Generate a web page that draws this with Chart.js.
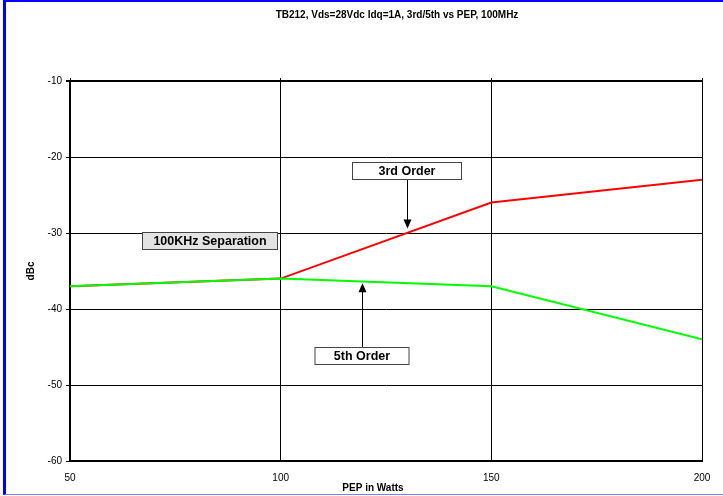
<!DOCTYPE html>
<html>
<head>
<meta charset="utf-8">
<script src="https://cdn.jsdelivr.net/npm/chart.js@4.4.1/dist/chart.umd.min.js"></script>
<style>
  html, body { margin: 0; padding: 0; background: #fff; }
  #wrap { position: relative; width: 723px; height: 496px; }
  #frame { position: absolute; left: 3px; top: 0; width: 725px; height: 495px;
           border-left: 3px solid #0000ff; border-top: 2px solid #0000ff;
           border-bottom: 1px solid #8080ff; box-sizing: border-box; pointer-events: none; }
</style>
</head>
<body>
<div id="wrap">
  <canvas id="chart" width="723" height="496"></canvas>
  <div id="frame"></div>
</div>
<script>
// chart data
var pep = [50, 100, 150, 200];
var thirdOrder = [-37, -36, -26, -23];
var fifthOrder = [-37, -36, -37, -44];
var yTicks = [-60, -50, -40, -30, -20, -10];

// annotation boxes (data coordinates: centre x, box top y, arrow tip y)
var annoText = ["3rd Order", "100KHz Separation", "5th Order"];
var annoX = [130, 83.2, 119.3];
var annoY = [-20.6, -29.9, -45];
var annoArrow = [-29.4, null, -36.6];
var annoArrowUp = [false, false, true];

function toPoints(xs, ys) {
    var out = [];
    for (var i = 0; i < xs.length; i++) out.push({x: xs[i], y: ys[i]});
    return out;
}

var labelsPlugin = {
    id: "labels",
    afterDraw: function (chart) {
        var ctx = chart.ctx;
        ctx.save();
        ctx.fillStyle = "#000";
        ctx.font = "bold 10px 'Liberation Sans', Arial, sans-serif";
        ctx.textAlign = "center";
        ctx.textBaseline = "middle";
        ctx.fillText("TB212, Vds=28Vdc Idq=1A, 3rd/5th vs PEP, 100MHz", 397, 15);
        ctx.fillText("PEP in Watts", 373, 488);
        ctx.translate(31, 271);
        ctx.rotate(-Math.PI / 2);
        ctx.fillText("dBc", 0, 0);
        ctx.restore();
    }
};

var annoPlugin = {
    id: "anno",
    afterDatasetsDraw: function (chart) {
        var ctx = chart.ctx;
        var xs = chart.scales.x, ys = chart.scales.y;
        var sizes = [[110, 18], [136, 18], [95, 18]];
        var fills = ["#ffffff", "#e3e3e3", "#ffffff"];
        ctx.save();
        for (var i = 0; i < annoText.length; i++) {
            var cx = Math.round(xs.getPixelForValue(annoX[i]));
            var top = Math.round(ys.getPixelForValue(annoY[i]));
            var w = sizes[i][0], h = sizes[i][1];
            // arrow
            if (annoArrow[i] !== null) {
                var tip = ys.getPixelForValue(annoArrow[i]);
                var from = annoArrowUp[i] ? top : top + h;
                var dir = annoArrowUp[i] ? 1 : -1;
                ctx.strokeStyle = "#000";
                ctx.lineWidth = 1;
                ctx.beginPath();
                ctx.moveTo(cx + 0.5, from);
                ctx.lineTo(cx + 0.5, tip + dir * 8);
                ctx.stroke();
                ctx.fillStyle = "#000";
                ctx.beginPath();
                ctx.moveTo(cx + 0.5, tip);
                ctx.lineTo(cx - 3.5, tip + dir * 9);
                ctx.lineTo(cx + 4.5, tip + dir * 9);
                ctx.closePath();
                ctx.fill();
            }
            ctx.fillStyle = fills[i];
            ctx.fillRect(cx - w / 2, top, w, h);
            ctx.strokeStyle = "#444";
            ctx.lineWidth = 1;
            ctx.strokeRect(cx - w / 2 + 0.5, top + 0.5, w - 1, h - 1);
            ctx.fillStyle = "#000";
            ctx.font = "bold 12.5px 'Liberation Sans', Arial, sans-serif";
            ctx.textAlign = "center";
            ctx.textBaseline = "middle";
            ctx.fillText(annoText[i], cx, top + h / 2 + 1);
        }
        ctx.restore();
    }
};

new Chart(document.getElementById("chart"), {
    type: "line",
    data: {
        datasets: [{
            label: "3rd Order",
            data: toPoints(pep, thirdOrder),
            borderColor: "#ff0000",
            borderWidth: 2,
            pointRadius: 0,
            tension: 0,
            order: 2
        }, {
            label: "5th Order",
            data: toPoints(pep, fifthOrder),
            borderColor: "#00ff00",
            borderWidth: 2,
            pointRadius: 0,
            tension: 0,
            order: 1
        }]
    },
    options: {
        responsive: false,
        animation: false,
        events: [],
        layout: { padding: { top: 78, right: 21, left: 0, bottom: 0 } },
        plugins: { legend: { display: false }, tooltip: { enabled: false }, title: { display: false } },
        scales: {
            x: {
                type: "linear",
                min: 50, max: 200,
                afterFit: function (s) { s.height = 35; },
                afterBuildTicks: function (s) { s.ticks = pep.map(function (v) { return {value: v}; }); },
                ticks: {
                    color: "#000", padding: 11, maxRotation: 0,
                    font: { family: "'Liberation Sans', Arial, sans-serif", size: 10 }
                },
                grid: { color: "#000", lineWidth: 1, drawTicks: false },
                border: { color: "#000", width: 2 }
            },
            xTop: {
                type: "linear",
                position: "top",
                min: 50, max: 200,
                afterFit: function (s) { s.height = 3; },
                afterBuildTicks: function (s) { s.ticks = pep.map(function (v) { return {value: v}; }); },
                ticks: { display: false },
                grid: { color: "#000", lineWidth: 1, drawOnChartArea: false, drawTicks: true, tickLength: 3 },
                border: { display: false }
            },
            y: {
                min: -60, max: -10,
                afterFit: function (s) { s.width = 70; },
                afterBuildTicks: function (s) { s.ticks = yTicks.map(function (v) { return {value: v}; }); },
                ticks: {
                    color: "#000", padding: 4,
                    font: { family: "'Liberation Sans', Arial, sans-serif", size: 10 }
                },
                grid: {
                    color: "#000",
                    lineWidth: function (c) { return c.tick && c.tick.value === -10 ? 2 : 1; },
                    tickLength: 4
                },
                border: { color: "#000", width: 2 }
            }
        }
    },
    plugins: [labelsPlugin, annoPlugin]
});
</script>
</body>
</html>
